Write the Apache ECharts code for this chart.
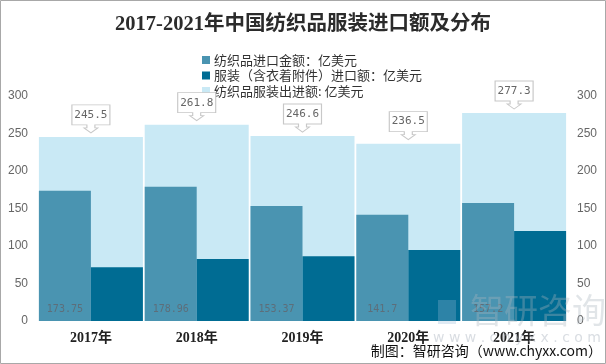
<!DOCTYPE html>
<html>
<head>
<meta charset="utf-8">
<script src="https://cdn.jsdelivr.net/npm/echarts@6/dist/echarts.min.js"></script>
<style>
html,body{margin:0;padding:0;background:#fff;}
#c{width:606px;height:364px;}
</style>
</head>
<body>
<div id="c"></div>
<script>
var categories = ['2017年', '2018年', '2019年', '2020年', '2021年'];
var textileImports = [173.75, 178.96, 153.37, 141.7, 157.2];
var garmentImports = [71.75, 82.8, 86.2, 94.8, 120.1];
var totalImports = [245.5, 261.8, 246.6, 236.5, 277.3];
var yTicks = [0, 50, 100, 150, 200, 250, 300];

var chart = echarts.init(document.getElementById('c'), null, {renderer: 'canvas'});
var calloutPath = 'path://M0,0 H38 V20 H23 V23 L26,23 L19,28 L12,23 L15,23 V20 H0 Z';
var serif = '"Liberation Serif", "Noto Sans CJK SC", serif';

var yAxisCommon = {
  type: 'value', min: yTicks[0], max: yTicks[yTicks.length - 1], interval: 50,
  axisLine: {show: false}, axisTick: {show: false}, splitLine: {show: false},
  axisLabel: {color: '#666', fontSize: 12, fontFamily: '"Liberation Sans", sans-serif', margin: 10}
};

chart.setOption({
  animation: false,
  title: {
    text: '2017-2021年中国纺织品服装进口额及分布',
    left: 'center', top: 9,
    textStyle: {fontSize: 20.5, fontWeight: 'bold', color: '#2b2b2b', fontFamily: serif}
  },
  legend: {
    orient: 'vertical', left: 197, top: 48,
    itemWidth: 8, itemHeight: 8, itemGap: 1.5, icon: 'rect',
    textStyle: {fontSize: 13, lineHeight: 14, color: '#333', fontFamily: '"Noto Sans CJK SC", sans-serif', padding: [0, 0, 0, -1]},
    data: ['纺织品进口金额：亿美元', '服装（含衣着附件）进口额：亿美元', '纺织品服装出进额: 亿美元']
  },
  grid: {left: 38, right: 39, top: 96, bottom: 43},
  xAxis: [
    {type: 'category', data: categories,
     axisLine: {show: false}, axisTick: {show: false},
     axisLabel: {color: '#222', fontSize: 14, fontWeight: 'bold', fontFamily: serif, margin: 10}},
    {type: 'category', data: categories, show: false}
  ],
  yAxis: [
    Object.assign({}, yAxisCommon, {position: 'left'}),
    Object.assign({}, yAxisCommon, {position: 'right'})
  ],
  series: [
    {
      name: '纺织品进口金额：亿美元', type: 'bar', xAxisIndex: 0, yAxisIndex: 0,
      data: textileImports, barGap: '0%', barCategoryGap: '1.7%', z: 3,
      itemStyle: {color: '#4a94b1'},
      label: {show: true, position: 'insideBottom', distance: 7, color: '#5d6e7a',
              fontSize: 10, fontFamily: '"DejaVu Sans Mono", monospace'}
    },
    {
      name: '服装（含衣着附件）进口额：亿美元', type: 'bar', xAxisIndex: 0, yAxisIndex: 0,
      data: garmentImports, barGap: '0%', barCategoryGap: '1.7%', z: 3,
      itemStyle: {color: '#006c93'}
    },
    {
      name: '纺织品服装出进额: 亿美元', type: 'bar', xAxisIndex: 1, yAxisIndex: 0,
      data: totalImports, barCategoryGap: '1.7%', z: 1,
      itemStyle: {color: '#c9e9f5'},
      markPoint: {
        symbol: calloutPath, symbolSize: [38, 28], symbolOffset: [0, -18],
        itemStyle: {color: '#fff', borderColor: '#c8c8c8', borderWidth: 1},
        label: {show: true, color: '#666', fontSize: 11, fontFamily: '"DejaVu Sans Mono", monospace',
                offset: [0, -4], formatter: function (p) { return p.data.value; }},
        data: categories.map(function (c, i) { return {coord: [i, totalImports[i]], value: totalImports[i]}; })
      }
    }
  ],
  graphic: [
    {type: 'rect', z: 100, silent: true, shape: {x: 0.5, y: 0.5, width: 605, height: 363},
     style: {fill: 'none', stroke: '#a8a8a8', lineWidth: 1}},
    {type: 'text', z: 50, silent: true, left: 470, top: 293,
     style: {text: '智研咨询', fill: 'rgba(170,180,190,0.35)', font: '34px "Noto Sans CJK SC"'}},
    {type: 'rect', z: 50, silent: true, shape: {x: 438, y: 300, width: 18, height: 24},
     style: {fill: 'rgba(150,185,215,0.3)'}},
    {type: 'text', z: 50, silent: true, left: 433, top: 331,
     style: {text: 'w w w . c h y x x . c o m', fill: 'rgba(170,180,190,0.45)', font: '14px "DejaVu Sans"'}},
    {type: 'text', z: 60, silent: true, right: 4, top: 344,
     style: {text: '制图：智研咨询（www.chyxx.com）', fill: '#111', font: '14px "Noto Sans CJK SC"'}}
  ]
});
</script>
</body>
</html>
